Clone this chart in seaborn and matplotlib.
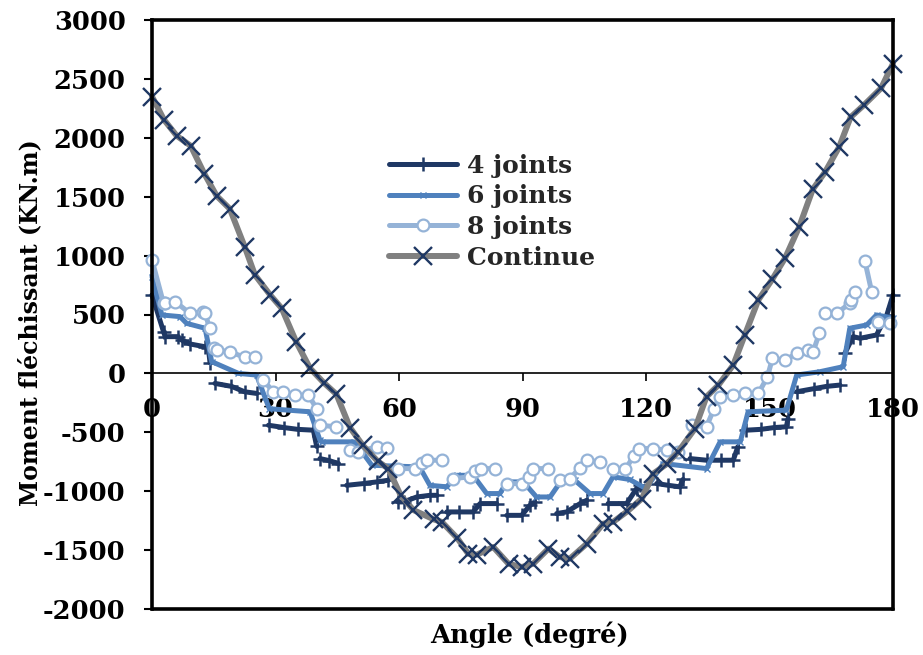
import numpy as np
import pandas as pd
import matplotlib
matplotlib.use("Agg")
import matplotlib.pyplot as plt
import seaborn as sns
from matplotlib.lines import Line2D

nan = np.nan

# Continue (no joint)
CONT_ANG = [0, 2.9, 6.0, 9.4, 12.7, 15.7, 18.9, 22.5, 25.0, 28.7, 31.5, 35.0, 38.4, 41.7, 44.8,
            48.1, 51.2, 54.8, 57.4, 60.4, 63.5, 68.5, 70.4, 74.2, 76.8, 78.9, 82.9, 86.6, 89.8,
            92.6, 96.3, 99.1, 101.5, 105.6, 109.6, 112.0, 115.5, 119.0, 121.8, 125.0, 127.8,
            131.9, 134.7, 137.6, 141.2, 144.0, 147.3, 150.7, 153.8, 157.2, 160.5, 163.5, 166.9,
            169.7, 173.0, 177.1, 180]
CONT_VAL = [2350, 2154, 2017, 1932, 1696, 1507, 1397, 1077, 836, 666, 553, 270, 43, -78, -177,
            -460, -610, -745, -808, -1035, -1160, -1240, -1261, -1400, -1531, -1539, -1474, -1616,
            -1644, -1616, -1488, -1559, -1573, -1446, -1276, -1261, -1170, -1063, -850, -770, -666,
            -468, -198, -99, 71, 326, 624, 800, 980, 1243, 1562, 1709, 1921, 2175, 2280, 2421, 2630]

# 4 joints (nan = break in the line)
J4_ANG = [0, 2.8, 3.2, 6.4, nan, 7.2, 9.2, 12.9, 13.7, 14.1, nan, 15.3, 19.3, 22.5, 25.4, nan,
          28.3, 32.1, 35.4, 39.2, 40.0, nan, 40.8, 43.0, 45.3, nan, 47.3, 51.4, 54.6, 57.4, nan,
          59.8, 61.1, 64.3, 67.5, 69.2, nan, 71.6, 74.5, 78.0, 79.7, 83.7, nan, 86.2, 89.8, 91.8,
          93.0, nan, 98.3, 100.7, 104.0, 105.6, nan, 110.8, 115.3, 117.7, 118.5, nan, 122.6, 125.4,
          128.2, 129.0, nan, 130.7, 134.7, 138.2, 141.2, 142.3, nan, 144.4, 147.9, 151.1, 154.1,
          154.5, nan, 156.6, 160.7, 163.9, 167.1, nan, 168.3, 170.3, 172.0, 176.0, 178.5, 180]
J4_VAL = [666, 354, 312, 312, nan, 283, 250, 226, 212, 90, nan, -85, -110, -156, -170, nan,
          -440, -460, -475, -482, -620, nan, -723, -740, -765, nan, -950, -935, -921, -907, nan,
          -1091, -1091, -1049, -1035, -1035, nan, -1176, -1176, -1176, -1105, -1105, nan, -1205,
          -1205, -1120, -1091, nan, -1190, -1176, -1105, -1077, nan, -1105, -1105, -978, -950, nan,
          -935, -950, -963, -900, nan, -723, -737, -737, -737, -623, nan, -482, -475, -460, -453,
          -383, nan, -156, -130, -110, -99, nan, 170, 312, 298, 326, 496, 666]

# 6 joints
J6_ANG = [0, 2.4, 6.8, 8.4, 12.9, 14.5, 21.0, 25.4, 27.4, 28.5, 38.4, 40.8, 41.2, 49.0, 51.3,
          53.4, 65.0, 67.5, 71.6, 74.0, 78.0, 81.3, 84.5, 86.2, 90.2, 93.4, 96.7, 99.5, 102.7,
          106.4, 109.6, 112.0, 116.0, 120.0, 124.2, 134.7, 138.0, 142.9, 144.8, 154.1, 156.6,
          162.2, 167.9, 169.5, 173.6, 176.0, 180]
J6_VAL = [822, 496, 482, 425, 383, 100, 0, -14, -200, -300, -326, -567, -581, -581, -680,
          -780, -794, -950, -963, -865, -865, -1020, -1020, -921, -921, -1049, -1049, -907, -907,
          -1020, -1020, -878, -900, -978, -765, -808, -581, -581, -326, -312, -14,
          14, 57, 383, 411, 496, 470]

# 8 joints (nan = break in the line)
J8_ANG = [0, 2.8, 3.2, 5.6, 9.2, 12.5, 12.9, 14.0, nan, 15.0, 15.7, 18.9, 22.6, 25.0, nan,
          27.0, 29.5, 31.9, 34.7, 38.0, 40.0, nan, 40.8, 44.7, nan, 48.1, 50.0, 54.6, 57.2, nan,
          59.8, 63.9, 65.5, 66.7, 70.4, nan, 73.2, 77.2, 78.5, 80.0, 83.3, nan, 86.2, 89.8, 91.5,
          92.6, 96.3, nan, 99.1, 101.5, 104.0, 105.6, 108.8, nan, 112.0, 115.0, 117.0, 118.3,
          121.8, 125.2, 127.8, nan, 131.1, 134.7, 136.5, 137.9, 141.2, 144.0, 147.3, 149.5,
          150.7, 153.8, 156.6, 159.4, 160.6, 162.1, nan, 163.5, 166.3, 169.5, 169.9, 170.8, nan,
          173.2, 174.8, nan, 176.4, 179.3]
J8_VAL = [963, 595, 595, 610, 510, 524, 510, 383, nan, 212, 198, 184, 135, 135, nan,
          -57, -156, -156, -184, -184, -300, nan, -440, -453, nan, -652, -666, -623, -630, nan,
          -808, -808, -760, -737, -737, nan, -893, -878, -830, -808, -808, nan, -935, -935, -880,
          -808, -808, nan, -907, -893, -800, -737, -751, nan, -815, -815, -700, -638,
          -638, -652, -666, nan, -440, -453, -300, -198, -184, -170, -170, -30,
          127, 113, 170, 198, 184, 340, nan, 510, 510, 595, 624, 695, nan,
          950, 695, nan, 440, 425]

X_TICKS = [0, 30, 60, 90, 120, 150, 180]
Y_TICKS = [-2000, -1500, -1000, -500, 0, 500, 1000, 1500, 2000, 2500, 3000]


def to_frame(ang, val):
    df = pd.DataFrame({"angle": ang, "moment": val})
    df["seg"] = df["moment"].isna().cumsum()
    return df.dropna()


sns.set_theme(style="white")
plt.rcParams["font.family"] = ["DejaVu Serif"]
plt.rcParams["font.weight"] = "bold"
plt.rcParams["axes.labelweight"] = "bold"
plt.rcParams["axes.unicode_minus"] = False
FS = 18.5

fig = plt.figure(figsize=(9.23, 6.55), dpi=100)
ax = fig.add_axes([152 / 923, 1 - 609 / 655, 741 / 923, 589 / 655])

navy = "#1F3864"
series = [
    ("4 joints", J4_ANG, J4_VAL, dict(color=navy, marker="+", ms=10, mec=navy, mew=1.8, lw=3.6)),
    ("6 joints", J6_ANG, J6_VAL, dict(color="#4F81BD", marker="x", ms=4, mec="#4F81BD", mew=1.0, lw=3.6)),
    ("8 joints", J8_ANG, J8_VAL, dict(color="#95B3D7", marker="o", ms=8.5, mfc="white", mec="#95B3D7", mew=1.6, lw=3.6)),
    ("Continue", CONT_ANG, CONT_VAL, dict(color="#808080", marker="x", ms=13, mec=navy, mew=1.7, lw=4.3)),
]

handles = []
for name, a, v, st in series:
    df = to_frame(a, v)
    sns.lineplot(data=df, x="angle", y="moment", units="seg", estimator=None, sort=False,
                 ax=ax, legend=False, clip_on=False, **dict(st))
    handles.append(Line2D([], [], **st))

ax.set_xlim(0, 180)
ax.set_ylim(-2000, 3000)
ax.set_yticks(Y_TICKS)
ax.set_xticks(X_TICKS)
ax.tick_params(axis="y", direction="out", left=True, length=6, width=1.5, labelsize=FS, pad=13,
               colors="black")
ax.tick_params(axis="x", direction="out", bottom=True, length=6, width=1.2, labelsize=FS, pad=11,
               colors="black")
for sp in ax.spines.values():
    sp.set_visible(True)
    sp.set_color("black")
    sp.set_linewidth(2.6)

# x axis crosses at zero, frame line kept at the bottom
ax.spines["bottom"].set_position(("data", 0))
ax.spines["bottom"].set_linewidth(1.2)
ax.axhline(-2000, color="black", lw=2.6, clip_on=False, zorder=5)

ax.set_xlabel("Angle (degré)", fontsize=FS, fontweight="bold", color="black")
ax.xaxis.set_label_coords(0.51, -0.022)
ax.set_ylabel("Moment fléchissant (KN.m)", fontsize=17, fontweight="bold", color="black")
ax.yaxis.set_label_coords(-0.148, 0.487)

ax.legend(handles, [s[0] for s in series], loc="upper left", bbox_to_anchor=(0.32, 0.773),
          frameon=False, fontsize=18, handlelength=2.7, handletextpad=0.4, labelspacing=0.27,
          borderaxespad=0, borderpad=0)

fig.savefig("out.png", dpi=100)
